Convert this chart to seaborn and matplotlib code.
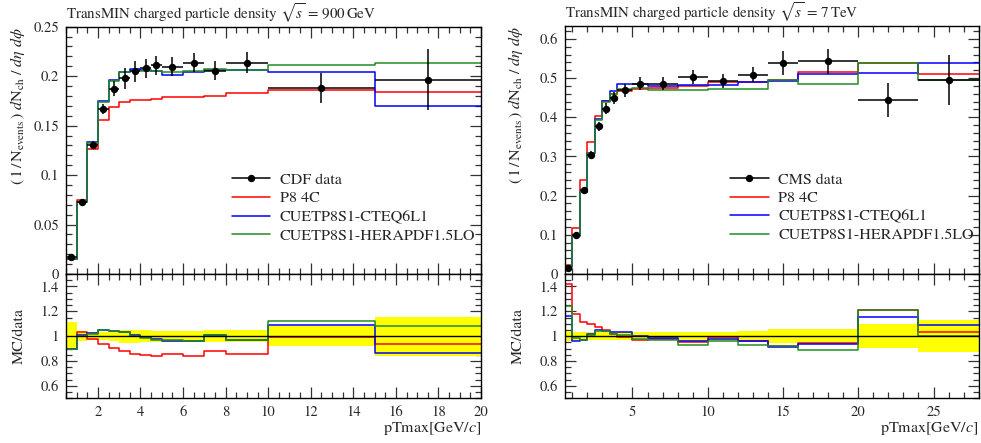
import matplotlib
matplotlib.use('Agg')
import matplotlib.pyplot as plt
from matplotlib.ticker import MultipleLocator, FormatStrFormatter
from matplotlib.lines import Line2D
import numpy as np
import seaborn as sns

sns.set_theme(style='ticks')
plt.rcParams['font.family'] = ['STIXGeneral', 'DejaVu Serif']
plt.rcParams['mathtext.fontset'] = 'stix'
plt.rcParams['font.size'] = 10

# --- sqrt(s) = 900 GeV, CDF data ---
edges_900 = [0.5, 1, 1.5, 2, 2.5, 3, 3.5, 4, 4.5, 5, 6, 7, 8, 10, 15, 20]
data_900 = [0.0170, 0.0726, 0.1300, 0.1666, 0.1875, 0.1980, 0.2050, 0.2078,
            0.2110, 0.2095, 0.2135, 0.2054, 0.2135, 0.1878, 0.1966]
err_900 = [0.0019, 0.0030, 0.0040, 0.0050, 0.0075, 0.0105, 0.0105, 0.0100,
           0.0095, 0.0095, 0.0095, 0.0095, 0.0105, 0.0150, 0.0310]
p8_4c_900 = [0.0152, 0.0753, 0.1267, 0.1560, 0.1690, 0.1736, 0.1757, 0.1757,
             0.1770, 0.1790, 0.1790, 0.1804, 0.1830, 0.1865, 0.1838]
cteq_900 = [0.0153, 0.0730, 0.1335, 0.1752, 0.1960, 0.2045, 0.2075, 0.2066,
            0.2054, 0.2015, 0.2047, 0.2065, 0.2065, 0.2040, 0.1700]
hera_900 = [0.0152, 0.0726, 0.1326, 0.1742, 0.1953, 0.2044, 0.2054, 0.2054,
            0.2050, 0.2037, 0.2054, 0.2068, 0.2063, 0.2108, 0.2134]

# --- sqrt(s) = 7 TeV, CMS data ---
edges_7 = [0.5, 1, 1.5, 2, 2.5, 3, 3.5, 4, 5, 6, 8, 10, 12, 14, 16, 20, 24, 28]
data_7 = [0.0160, 0.1000, 0.2150, 0.3050, 0.3770, 0.4220, 0.4500, 0.4690, 0.4860,
          0.4860, 0.5030, 0.4930, 0.5090, 0.5390, 0.5435, 0.4450, 0.4950]
err_7 = [0.0006, 0.0030, 0.0065, 0.0095, 0.0120, 0.0140, 0.0150, 0.0160, 0.0170,
         0.0170, 0.0180, 0.0180, 0.0200, 0.0300, 0.0320, 0.0430, 0.0640]
p8_4c_7 = [0.0227, 0.1180, 0.2400, 0.3360, 0.4040, 0.4420, 0.4590, 0.4670, 0.4720,
           0.4740, 0.4810, 0.4910, 0.4890, 0.4950, 0.5145, 0.5375, 0.5100]
cteq_7 = [0.0186, 0.0965, 0.2090, 0.3100, 0.3950, 0.4410, 0.4660, 0.4840, 0.4860,
          0.4800, 0.4830, 0.4830, 0.4890, 0.4920, 0.5110, 0.5130, 0.5385]
hera_7 = [0.0199, 0.0987, 0.2090, 0.3090, 0.3920, 0.4390, 0.4590, 0.4730, 0.4760,
          0.4690, 0.4690, 0.4730, 0.4710, 0.4960, 0.4850, 0.5375, 0.4950]

mc_labels = ['P8 4C', 'CUETP8S1-CTEQ6L1', 'CUETP8S1-HERAPDF1.5LO']
mc_colors = ['#ff0000', '#0000ff', '#228b22']

W, H = 981, 443
fig = plt.figure(figsize=(W / 100, H / 100), dpi=100)


def px_axes(x0, x1, y0, y1):
    return fig.add_axes([x0 / W, 1 - y1 / H, (x1 - x0) / W, (y1 - y0) / H])


def style_axes(ax, xmajor, xminor, ymajor, yminor):
    ax.xaxis.set_major_locator(MultipleLocator(xmajor))
    ax.xaxis.set_minor_locator(MultipleLocator(xminor))
    ax.yaxis.set_major_locator(MultipleLocator(ymajor))
    ax.yaxis.set_minor_locator(MultipleLocator(yminor))
    ax.yaxis.set_major_formatter(FormatStrFormatter('%g'))
    ax.xaxis.set_major_formatter(FormatStrFormatter('%g'))
    ax.tick_params(which='both', direction='in', top=True, right=True,
                   color='#333333', width=0.9, labelsize=10.5)
    ax.tick_params(which='major', length=8, pad=5)
    ax.tick_params(which='minor', length=4)
    for sp in ax.spines.values():
        sp.set_linewidth(1.0)
        sp.set_color('black')


def step_line(ax, edges, vals, color):
    y = np.append(vals, vals[-1])
    sns.lineplot(x=edges, y=y, ax=ax, color=color, lw=1.1, drawstyle='steps-post',
                 estimator=None, errorbar=None, legend=False, sort=False)


def draw_panel(x0, x1, top, edges, data, err, mcs, title, data_label,
               ymax, ymajor, yminor, xmajor, xminor):
    ax = px_axes(x0, x1, top, 274)
    rax = px_axes(x0, x1, 274, 398.3)
    edges = np.asarray(edges, dtype=float)
    data = np.asarray(data)
    err = np.asarray(err)
    centers = 0.5 * (edges[:-1] + edges[1:])
    halfw = 0.5 * np.diff(edges)

    for vals, color in zip(mcs, mc_colors):
        step_line(ax, edges, np.asarray(vals), color)
    ax.errorbar(centers, data, xerr=halfw, yerr=err, fmt='o', color='black',
                ms=4.3, lw=1.1, capsize=0, zorder=5)

    ax.set_xlim(edges[0], edges[-1])
    ax.set_ylim(0, ymax)
    style_axes(ax, xmajor, xminor, ymajor, yminor)
    ax.tick_params(labelbottom=False)
    ax.set_ylabel(r'$(\,1\,/\,\mathrm{N}_{\mathrm{events}}\,)\ d\mathrm{N}_{\mathrm{ch}}\ /\ d\eta\ d\phi$',
                  fontsize=11.5, ha='right', va='center', rotation_mode='anchor')
    ax.yaxis.set_label_coords(-0.118, 1.0)
    ax.text(0, 1.03, title, transform=ax.transAxes, ha='left', va='baseline', fontsize=10.8)

    handles = [Line2D([], [], color='black', marker='o', ms=4.3, lw=1.1)]
    handles += [Line2D([], [], color=c, lw=1.1) for c in mc_colors]
    ax.legend(handles, [data_label] + mc_labels, loc='upper left', bbox_to_anchor=(0.40, 0.41),
              frameon=False, fontsize=11.5, borderpad=0, borderaxespad=0,
              handlelength=2.4, handletextpad=0.6, labelspacing=0.28)

    # ratio panel
    rel = err / data
    rax.bar(centers, 2 * rel, bottom=1 - rel, width=2 * halfw, color='#ffff00', lw=0, zorder=1)
    rax.axhline(1, color='black', lw=1.0, zorder=4)
    for vals, color in zip(mcs, mc_colors):
        step_line(rax, edges, np.asarray(vals) / data, color)
    rax.set_xlim(edges[0], edges[-1])
    rax.set_ylim(0.5, 1.5)
    style_axes(rax, xmajor, xminor, 0.2, 0.05)
    rax.set_ylabel('MC/data', fontsize=11.5, ha='center', va='center', rotation_mode='anchor')
    rax.yaxis.set_label_coords(-0.112, 0.5)
    rax.set_xlabel(r'pTmax[GeV/$c$]', fontsize=11.5, ha='right', va='center')
    rax.xaxis.set_label_coords(1.0, -0.245)


draw_panel(66, 481, 26.7, edges_900, data_900, err_900, [p8_4c_900, cteq_900, hera_900],
           r'TransMIN charged particle density $\sqrt{s}\,=\,900\,$GeV', 'CDF data',
           0.25, 0.05, 0.01, 2, 0.5)
draw_panel(564.7, 978.7, 26, edges_7, data_7, err_7, [p8_4c_7, cteq_7, hera_7],
           r'TransMIN charged particle density $\sqrt{s}\,=\,7\,$TeV', 'CMS data',
           0.633, 0.1, 0.02, 5, 1)

fig.savefig('out.png', dpi=100)
